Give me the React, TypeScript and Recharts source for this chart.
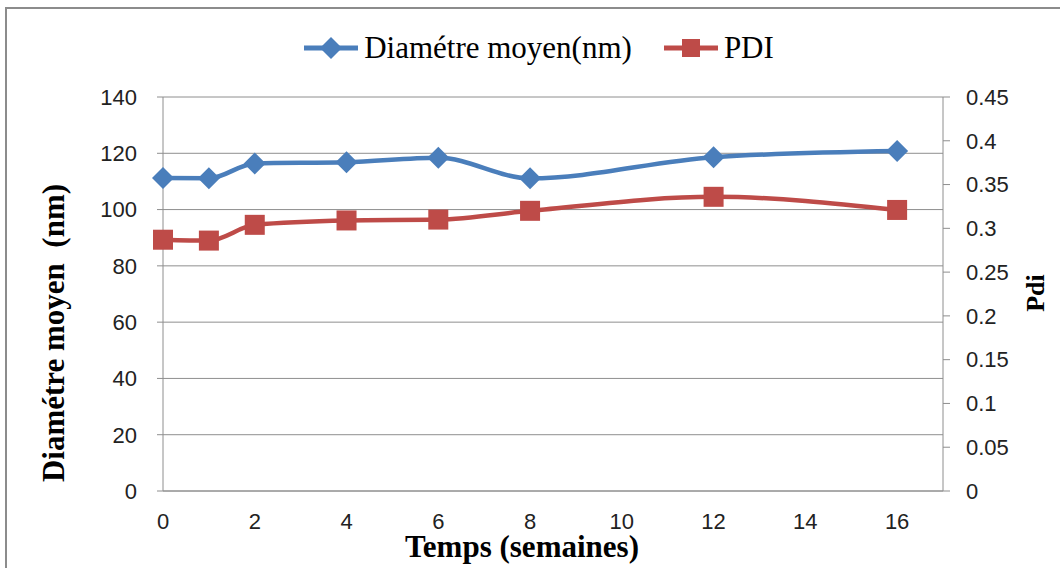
import { LineChart, Line, XAxis, YAxis, CartesianGrid, Legend, Label } from "recharts";

const weeks = [0, 1, 2, 4, 6, 8, 12, 16];
const diametre = [111.2, 111.1, 116.4, 116.8, 118.4, 111.1, 118.6, 120.8];
const pdi = [0.287, 0.286, 0.304, 0.309, 0.31, 0.32, 0.336, 0.321];

const xTicks = [0, 2, 4, 6, 8, 10, 12, 14, 16];
const leftTicks = [0, 20, 40, 60, 80, 100, 120, 140];
const rightTicks = [0, 0.05, 0.1, 0.15, 0.2, 0.25, 0.3, 0.35, 0.4, 0.45];

const data = weeks.map((w, i) => ({ semaine: w, diametre: diametre[i], pdi: pdi[i] }));

const BLUE = "#4A7EBB";
const RED = "#BE4B48";
const GRID = "#8e8e8e";
const tickFont = { fontFamily: "Liberation Sans", fontSize: 22, fill: "#222" };

const Diamond = (props: any) => {
  const { cx, cy } = props;
  if (cx == null || cy == null) return null;
  const r = 11;
  return <polygon points={`${cx},${cy - r} ${cx + r},${cy} ${cx},${cy + r} ${cx - r},${cy}`} fill={BLUE} />;
};

const Square = (props: any) => {
  const { cx, cy } = props;
  if (cx == null || cy == null) return null;
  return <rect x={cx - 10} y={cy - 10} width={20} height={20} fill={RED} />;
};

const LegendContent = (props: any) => {
  const items = props.payload || [];
  return (
    <div style={{ display: "flex", justifyContent: "center", alignItems: "center", paddingLeft: 18 }}>
      {items.map((it: any, i: number) => (
        <div key={i} style={{ display: "flex", alignItems: "center", marginRight: i === 0 ? 32 : 0 }}>
          <svg width={56} height={30}>
            <line x1={0} y1={15} x2={54} y2={15} stroke={it.color} strokeWidth={5} />
            {it.dataKey === "diametre" ? (
              <polygon points="27,4 38,15 27,26 16,15" fill={BLUE} />
            ) : (
              <rect x={18} y={6} width={18} height={18} fill={RED} />
            )}
          </svg>
          <span style={{ fontFamily: "Liberation Serif", fontSize: 31, marginLeft: 4, color: "#000" }}>{it.value}</span>
        </div>
      ))}
    </div>
  );
};

const LeftTitle = () => (
  <text
    x={64}
    y={333}
    transform="rotate(-90 64 333)"
    textAnchor="middle"
    style={{ whiteSpace: "pre" }}
    fontFamily="Liberation Serif"
    fontWeight="bold"
    fontSize={31}
    fill="#000"
  >
    Diamétre moyen  (nm)
  </text>
);

const RightTitle = () => (
  <text
    x={1044}
    y={293}
    transform="rotate(-90 1044 293)"
    textAnchor="middle"
    fontFamily="Liberation Serif"
    fontWeight="bold"
    fontSize={26}
    fill="#000"
  >
    Pdi
  </text>
);

const BottomTitle = () => (
  <text x={522} y={557} textAnchor="middle" fontFamily="Liberation Serif" fontWeight="bold" fontSize={31} fill="#000">
    Temps (semaines)
  </text>
);

export default function App() {
  return (
    <div style={{ position: "absolute", left: 0, top: 0, width: 1060, height: 568, overflow: "hidden", background: "#fff" }}>
      <div
        style={{
          position: "absolute",
          left: 5,
          top: 7,
          width: 1100,
          height: 620,
          border: "2px solid #8c8c8c",
          boxSizing: "border-box",
        }}
      />
      <div style={{ position: "absolute", left: 0, top: 0 }}>
        <LineChart width={1060} height={568} data={data} margin={{ top: 97, right: 0, bottom: 0, left: 0 }}>
          <CartesianGrid yAxisId="left" horizontal vertical={false} stroke={GRID} strokeWidth={1} />
          <XAxis
            dataKey="semaine"
            type="number"
            domain={[0, 17]}
            ticks={xTicks}
            height={77}
            tickLine={false}
            tickSize={0}
            tickMargin={22}
            axisLine={{ stroke: GRID }}
            tick={tickFont}
          >
            <Label content={<BottomTitle />} />
          </XAxis>
          <YAxis
            yAxisId="left"
            orientation="left"
            width={163}
            domain={[0, 140]}
            ticks={leftTicks}
            tickSize={6}
            tickMargin={20}
            tickLine={{ stroke: GRID }}
            axisLine={{ stroke: GRID }}
            tick={tickFont}
          >
            <Label content={<LeftTitle />} />
          </YAxis>
          <YAxis
            yAxisId="right"
            orientation="right"
            width={117}
            domain={[0, 0.45]}
            ticks={rightTicks}
            tickFormatter={(v: number) => String(v)}
            tickSize={7}
            tickMargin={16}
            tickLine={{ stroke: GRID }}
            axisLine={{ stroke: GRID }}
            tick={tickFont}
          >
            <Label content={<RightTitle />} />
          </YAxis>
          <Legend
            verticalAlign="middle"
            align="center"
            layout="horizontal"
            content={<LegendContent />}
            wrapperStyle={{ top: 30, left: 0, width: 1060, height: 36 }}
          />
          <Line
            yAxisId="left"
            type="monotone"
            dataKey="diametre"
            name="Diamétre moyen(nm)"
            stroke={BLUE}
            strokeWidth={4.5}
            dot={<Diamond />}
            activeDot={false}
            isAnimationActive={false}
          />
          <Line
            yAxisId="right"
            type="monotone"
            dataKey="pdi"
            name="PDI"
            stroke={RED}
            strokeWidth={4.5}
            dot={<Square />}
            activeDot={false}
            isAnimationActive={false}
          />
        </LineChart>
      </div>
    </div>
  );
}
